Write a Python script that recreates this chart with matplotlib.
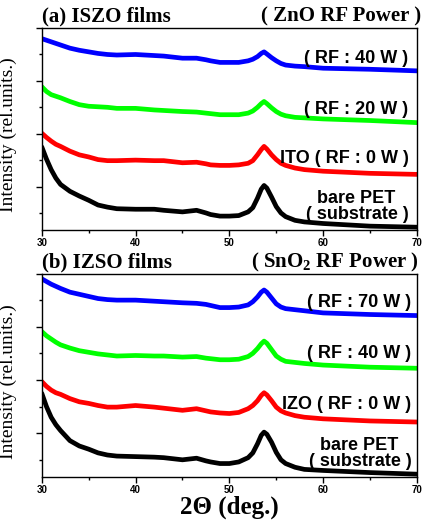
import matplotlib
matplotlib.use("Agg")
import matplotlib.pyplot as plt
from matplotlib.ticker import MultipleLocator

# 2-theta grid shared by all traces (deg.)
two_theta = [30, 30.5, 31, 31.5, 32, 33, 34, 35, 36, 37, 38, 40, 42, 43, 45, 46.5, 47.5, 48,
             49, 50, 51, 52, 52.5, 53, 53.4, 53.7, 54, 54.5, 55, 55.5, 56, 57, 58, 60, 65, 70]

# (a) ISZO films, ZnO RF power
a_pet = [1.75, 1.52, 1.32, 1.16, 1.04, 0.91, 0.82, 0.74, 0.65, 0.61, 0.58, 0.57, 0.57, 0.55, 0.52, 0.55,
         0.50, 0.47, 0.44, 0.44, 0.45, 0.52, 0.60, 0.78, 0.95, 1.02, 0.97, 0.80, 0.62, 0.50, 0.43, 0.36,
         0.33, 0.30, 0.25, 0.23]
a_0w = [2.01, 1.93, 1.86, 1.80, 1.76, 1.67, 1.60, 1.56, 1.51, 1.49, 1.49, 1.50, 1.49, 1.49, 1.45, 1.46,
        1.43, 1.41, 1.40, 1.40, 1.41, 1.44, 1.49, 1.60, 1.70, 1.76, 1.71, 1.60, 1.51, 1.44, 1.40, 1.35,
        1.32, 1.29, 1.25, 1.23]
a_20w = [2.89, 2.80, 2.74, 2.71, 2.68, 2.61, 2.55, 2.52, 2.51, 2.50, 2.48, 2.48, 2.45, 2.44, 2.42, 2.41,
         2.39, 2.38, 2.36, 2.36, 2.36, 2.39, 2.43, 2.50, 2.57, 2.61, 2.57, 2.49, 2.42, 2.37, 2.34, 2.31,
         2.30, 2.28, 2.25, 2.21]
a_40w = [3.80, 3.77, 3.74, 3.71, 3.68, 3.62, 3.58, 3.55, 3.52, 3.50, 3.49, 3.50, 3.48, 3.47, 3.43, 3.43,
         3.40, 3.38, 3.35, 3.35, 3.35, 3.38, 3.41, 3.46, 3.52, 3.55, 3.51, 3.44, 3.38, 3.33, 3.30, 3.28,
         3.27, 3.24, 3.22, 3.19]

# (b) IZSO films, SnO2 RF power
b_pet = [1.75, 1.50, 1.30, 1.16, 1.05, 0.86, 0.76, 0.70, 0.63, 0.59, 0.57, 0.56, 0.55, 0.54, 0.50, 0.53,
         0.48, 0.46, 0.43, 0.43, 0.46, 0.54, 0.63, 0.80, 0.96, 1.02, 0.98, 0.83, 0.64, 0.50, 0.43, 0.36,
         0.32, 0.30, 0.26, 0.23]
b_0w = [1.97, 1.88, 1.81, 1.76, 1.73, 1.65, 1.59, 1.56, 1.52, 1.49, 1.49, 1.52, 1.49, 1.47, 1.43, 1.46,
        1.42, 1.40, 1.38, 1.37, 1.39, 1.46, 1.52, 1.61, 1.71, 1.76, 1.72, 1.61, 1.49, 1.42, 1.38, 1.33,
        1.30, 1.27, 1.23, 1.21]
b_40w = [2.91, 2.83, 2.77, 2.71, 2.66, 2.60, 2.55, 2.52, 2.49, 2.47, 2.45, 2.46, 2.45, 2.45, 2.43, 2.44,
         2.41, 2.40, 2.38, 2.38, 2.39, 2.44, 2.50, 2.59, 2.68, 2.73, 2.69, 2.57, 2.45, 2.39, 2.35, 2.33,
         2.31, 2.28, 2.24, 2.22]
b_70w = [3.90, 3.85, 3.80, 3.76, 3.72, 3.65, 3.61, 3.57, 3.53, 3.51, 3.50, 3.50, 3.48, 3.47, 3.45, 3.44,
         3.42, 3.40, 3.36, 3.36, 3.37, 3.41, 3.47, 3.56, 3.65, 3.69, 3.65, 3.54, 3.43, 3.37, 3.34, 3.32,
         3.30, 3.26, 3.23, 3.21]

xticks = [30, 40, 50, 60, 70]

plt.rcParams["mathtext.default"] = "regular"
SERIF = "Liberation Serif"
SANS = "Liberation Sans"
COLORS = ["black", "#ff0000", "#00ff00", "#0000ff"]


def style_axes(ax):
    ax.set_xlim(30, 70)
    ax.set_ylim(0.18, 4.0)
    ax.set_xticks(xticks)
    ax.xaxis.set_minor_locator(MultipleLocator(5))
    ax.yaxis.set_major_locator(MultipleLocator(1))
    ax.yaxis.set_minor_locator(MultipleLocator(0.5))
    ax.tick_params(axis="y", which="both", labelleft=False)
    ax.tick_params(which="major", length=4, width=1, direction="out")
    ax.tick_params(which="minor", length=2.5, width=1, direction="out")
    ax.tick_params(axis="x", pad=2)
    for lab in ax.get_xticklabels():
        lab.set_fontfamily(SANS)
        lab.set_fontweight("bold")
        lab.set_fontsize(7)
    for s in ax.spines.values():
        s.set_linewidth(1)
    ax.set_ylabel("Intensity (rel.units.)", family=SERIF, fontsize=14)
    ax.yaxis.set_label_coords(-0.065, 0.47)


def panel(ax, traces, labels, title_l, title_r, rtitle_x):
    for y, c in zip(traces, COLORS):
        ax.plot(two_theta, y, color=c, lw=3.4, solid_capstyle="round",
                solid_joinstyle="round")
    style_axes(ax)
    ax.text(0.0, 1.055, title_l, transform=ax.transAxes, family=SERIF,
            fontweight="bold", fontsize=15, ha="left", va="center")
    ax.text(rtitle_x, 1.055, title_r, transform=ax.transAxes, family=SERIF,
            fontweight="bold", fontsize=15, ha="right", va="center")
    kw = dict(family=SANS, fontweight="bold", fontsize=13, ha="right", va="center")
    for (x, y, s) in labels:
        ax.text(x, y, s, **kw)


fig = plt.figure(figsize=(4.22, 5.20), dpi=100)
ax1 = fig.add_axes([0.099, 0.558, 0.889, 0.388])
ax2 = fig.add_axes([0.099, 0.083, 0.889, 0.391])

panel(ax1, [a_pet, a_0w, a_20w, a_40w],
      [(69.1, 3.42, "( RF : 40 W )"),
       (69.1, 2.45, "( RF : 20 W )"),
       (69.1, 1.53, "ITO ( RF : 0 W )"),
       (67.7, 0.77, "bare PET"),
       (69.1, 0.47, "( substrate )")],
      "(a) ISZO films", "( ZnO RF Power )", 1.011)

panel(ax2, [b_pet, b_0w, b_40w, b_70w],
      [(69.4, 3.45, "( RF : 70 W )"),
       (69.4, 2.49, "( RF : 40 W )"),
       (69.4, 1.54, "IZO ( RF : 0 W )"),
       (68.0, 0.76, "bare PET"),
       (69.4, 0.47, "( substrate )")],
      "(b) IZSO films", "( SnO$_2$ RF Power )", 1.004)

ax2.set_xlabel("2\u0398 (deg.)", family=SERIF, fontweight="bold", fontsize=18, labelpad=0)

fig.savefig("out.png", dpi=100)
